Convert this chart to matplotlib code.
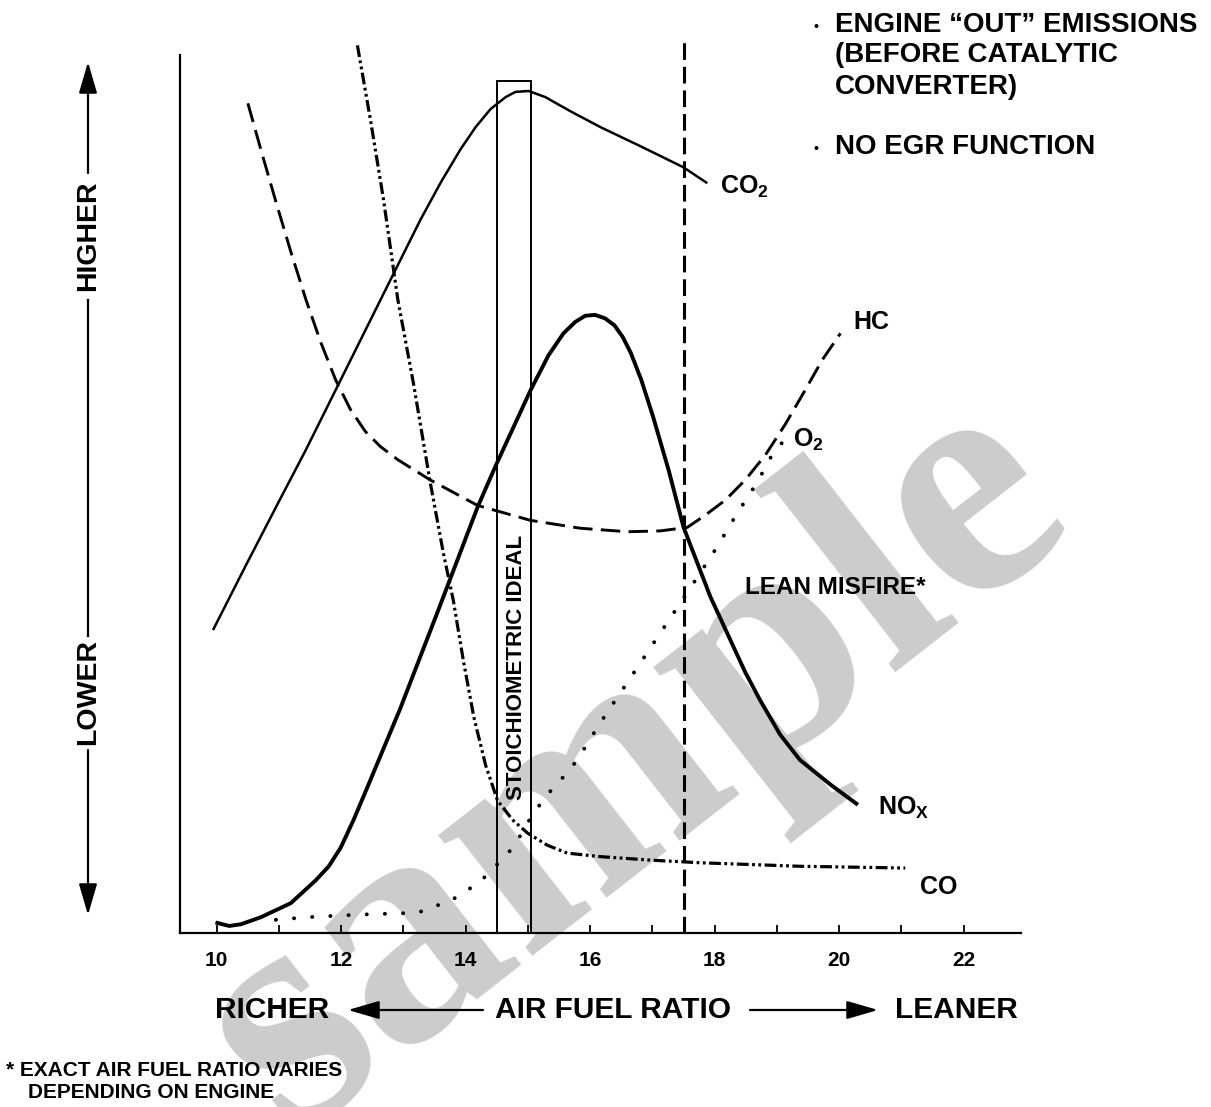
import matplotlib

matplotlib.use("Agg")
import matplotlib.pyplot as plt
from matplotlib.patches import Rectangle, FancyArrowPatch

plt.rcParams["font.family"] = ["Liberation Sans", "DejaVu Sans"]
plt.rcParams["font.weight"] = "bold"
plt.rcParams["mathtext.fontset"] = "custom"
plt.rcParams["mathtext.rm"] = "Liberation Sans:bold"
plt.rcParams["mathtext.bf"] = "Liberation Sans:bold"
plt.rcParams["lines.scale_dashes"] = False

# air fuel ratio vs relative level (0 = x axis, 100 = top of y axis)
co2_x = [9.94, 10.47, 11.01, 11.43, 11.83, 12.23, 12.63, 12.95, 13.27, 13.60, 13.92, 14.16, 14.40, 14.64, 14.80, 15.01, 15.28, 15.68, 16.16, 16.81, 17.50, 17.88]
co2_y = [34.5, 41.9, 49.3, 55.0, 60.7, 66.4, 72.1, 76.65, 81.2, 85.5, 89.3, 91.8, 93.85, 95.2, 95.8, 95.9, 95.2, 93.6, 91.8, 89.6, 87.2, 85.4]

hc_x = [10.50, 10.71, 10.95, 11.19, 11.43, 11.67, 11.91, 12.15, 12.39, 12.63, 12.91, 13.43, 14.19, 15.04, 15.84, 16.60, 17.13, 17.56, 17.85, 18.17, 18.49, 18.81, 19.13, 19.45, 19.73, 20.02]
hc_y = [94.5, 89.2, 83.3, 77.6, 72.2, 67.3, 63.0, 59.6, 57.1, 55.4, 53.9, 51.6, 48.7, 47.0, 46.1, 45.7, 45.8, 46.2, 47.6, 49.3, 51.6, 54.4, 57.9, 61.8, 65.3, 68.3]

co_x = [12.26, 12.47, 12.68, 12.91, 13.16, 13.43, 13.64, 13.80, 13.96, 14.13, 14.32, 14.51, 14.75, 14.99, 15.31, 15.63, 16.16, 16.97, 17.77, 19.37, 21.06]
co_y = [101.1, 92.6, 83.5, 72.1, 62.6, 51.3, 43.3, 37.9, 31.1, 24.6, 19.1, 15.1, 12.9, 11.4, 10.0, 9.1, 8.7, 8.3, 8.0, 7.6, 7.4]

nox_x = [9.98, 10.20, 10.39, 10.71, 11.19, 11.59, 11.80, 11.99, 12.20, 12.42, 12.95, 13.55, 14.19, 14.48, 15.04, 15.33, 15.57, 15.76, 15.92, 16.08, 16.24, 16.39, 16.52, 16.65, 16.82, 17.01, 17.26, 17.50, 17.93, 18.49, 18.73, 19.05, 19.37, 19.86, 20.30]
nox_y = [1.2, 0.8, 1.0, 1.8, 3.4, 6.0, 7.6, 9.7, 12.9, 16.6, 25.6, 36.6, 48.5, 53.2, 61.8, 65.8, 68.3, 69.6, 70.3, 70.4, 70.0, 69.2, 67.9, 66.1, 63.0, 58.8, 52.7, 46.2, 38.3, 29.7, 26.5, 22.6, 19.7, 16.9, 14.6]

o2_x = [10.95, 11.46, 12.31, 13.23, 13.47, 13.72, 13.96, 14.21, 14.45, 14.77, 15.09, 15.41, 15.68, 15.96, 16.12, 16.81, 17.72, 18.04, 18.36, 18.68, 18.94, 19.09]
o2_y = [1.5, 1.8, 2.1, 2.3, 3.0, 3.5, 4.6, 5.7, 7.4, 9.8, 13.7, 16.6, 18.6, 21.6, 23.5, 30.8, 40.5, 44.0, 47.8, 51.3, 54.7, 55.9]

stoich_lo, stoich_hi = 14.5, 15.05
lean_misfire = 17.5
tick_vals = list(range(10, 23))

W, H = 1211, 1107
fig = plt.figure(figsize=(W / 100, H / 100), dpi=100)


def fx(px):
    return px / W


def fy(py):
    return 1 - py / H


ax = fig.add_axes([fx(180), fy(933), fx(1021) - fx(180), fy(55) - fy(933)])
ax.set_facecolor("none")
ax.set_xlim(9.41, 22.92)
ax.set_ylim(0, 100)
for s in ("top", "right"):
    ax.spines[s].set_visible(False)
for s in ("left", "bottom"):
    ax.spines[s].set_linewidth(1.6)
ax.set_yticks([])
ax.set_xticks(tick_vals)
ax.set_xticklabels([str(v) if v % 2 == 0 else "" for v in tick_vals])
ax.tick_params(axis="x", direction="in", length=6, width=1.3, pad=13, labelsize=15)

k = dict(color="black", solid_capstyle="butt", solid_joinstyle="round", clip_on=False)
ax.plot(co2_x, co2_y, lw=1.8, **k)
ax.plot(nox_x, nox_y, lw=2.8, **k)
ax.plot(hc_x, hc_y, lw=2.1, dashes=(14, 6), **k)
ax.plot(co_x, co_y, lw=2.3, dashes=(8.5, 2.5, 2, 2.5, 2, 2.5), **k)
ax.plot(o2_x, o2_y, lw=2.8, dashes=(0.1, 13), dash_capstyle="round", color="black", clip_on=False)
ax.plot([lean_misfire, lean_misfire], [0, 101.7], lw=2.2, dashes=(12, 5), color="black", clip_on=False)
ax.add_patch(Rectangle((stoich_lo, 0), stoich_hi - stoich_lo, 97.0, fill=False, lw=1.4, ec="black", clip_on=False))
ax.text(14.82, 30.2, "STOICHIOMETRIC IDEAL", rotation=90, ha="center", va="center", fontsize=16)

lbl = dict(fontsize=18, ha="left", va="center")
fig.text(fx(720), fy(187), "CO$_2$", **lbl)
fig.text(fx(853), fy(322), "HC", **lbl)
fig.text(fx(793), fy(440), "O$_2$", **lbl)
fig.text(fx(745), fy(588), "LEAN MISFIRE*", fontsize=17.5, ha="left", va="center")
fig.text(fx(878), fy(808), "NO$_\\mathrm{X}$", **lbl)
fig.text(fx(920), fy(887), "CO", **lbl)

note = dict(fontsize=20, ha="left", va="center")
fig.text(fx(813), fy(27), "•", fontsize=10, ha="left", va="center")
fig.text(fx(835), fy(25), "ENGINE “OUT” EMISSIONS", **note)
fig.text(fx(835), fy(55), "(BEFORE CATALYTIC", **note)
fig.text(fx(835), fy(87), "CONVERTER)", **note)
fig.text(fx(813), fy(149), "•", fontsize=10, ha="left", va="center")
fig.text(fx(835), fy(147), "NO EGR FUNCTION", **note)

big = dict(fontsize=21.5, va="center")
fig.text(fx(215), fy(1010), "RICHER", ha="left", **big)
fig.text(fx(495), fy(1010), "AIR FUEL RATIO", ha="left", **big)
fig.text(fx(1018), fy(1010), "LEANER", ha="right", **big)
fig.text(fx(88), fy(236), "HIGHER", rotation=90, ha="center", fontsize=20.5, va="center")
fig.text(fx(88), fy(692), "LOWER", rotation=90, ha="center", fontsize=20.5, va="center")

arr = dict(arrowstyle="-|>,head_length=1.2,head_width=0.35", color="black", lw=1.6,
           mutation_scale=16, shrinkA=0, shrinkB=0, transform=fig.transFigure)
fig.add_artist(FancyArrowPatch((fx(483), fy(1010)), (fx(348), fy(1010)), **arr))
fig.add_artist(FancyArrowPatch((fx(750), fy(1010)), (fx(878), fy(1010)), **arr))
fig.add_artist(FancyArrowPatch((fx(88), fy(173)), (fx(88), fy(62)), **arr))
fig.add_artist(FancyArrowPatch((fx(88), fy(750)), (fx(88), fy(915)), **arr))
fig.add_artist(plt.Line2D([fx(88), fx(88)], [fy(300), fy(636)], transform=fig.transFigure, color="black", lw=1.6))

fig.text(fx(6), fy(1071), "* EXACT AIR FUEL RATIO VARIES", fontsize=15, ha="left", va="center")
fig.text(fx(28), fy(1092), "DEPENDING ON ENGINE", fontsize=15, ha="left", va="center")

fig.text(fx(635), fy(765), "sample", rotation=38, ha="center", va="center", fontsize=240,
         family="Liberation Serif", weight="bold", color="#cccccc", zorder=-1)

fig.savefig("out.png", dpi=100)
plt.close(fig)
